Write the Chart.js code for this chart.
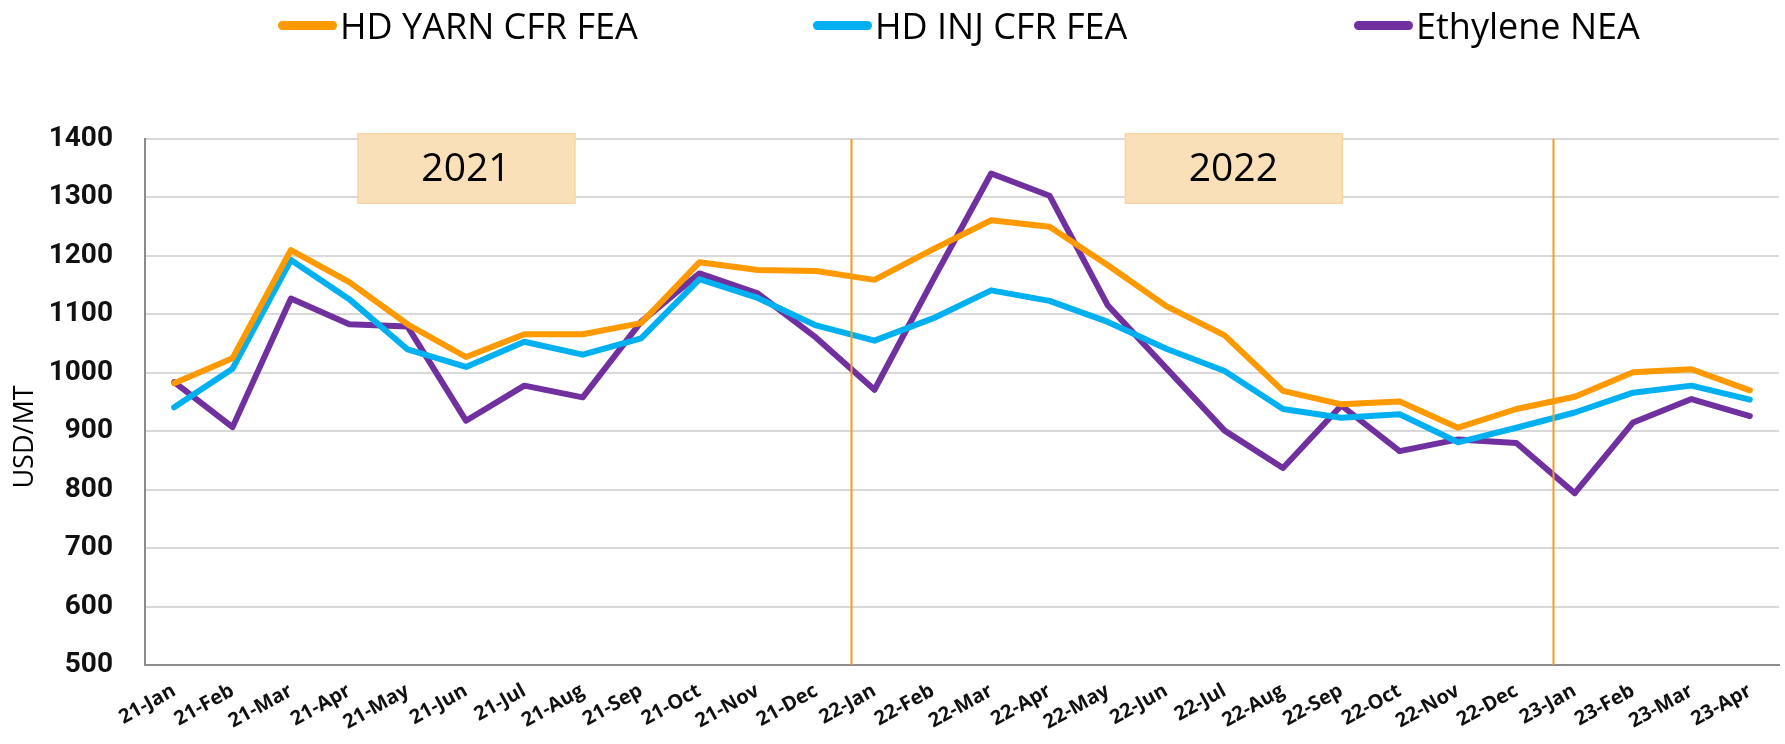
<!DOCTYPE html>
<html>
<head>
<meta charset="utf-8">
<script src="https://cdn.jsdelivr.net/npm/chart.js@4.4.0/dist/chart.umd.min.js"></script>
<style>
  html, body { margin: 0; padding: 0; background: #fff; }
  #wrap { position: relative; width: 1785px; height: 744px; }
  #grafico { position: absolute; left: 0; top: 0; }
  .leg { position: absolute; top: 0; height: 50px; display: flex; align-items: center;
         font-family: 'Open Sans', sans-serif; font-size: 36px; font-weight: 500; color: #000; white-space: nowrap; }
  .leg i { display: inline-block; width: 59px; height: 9px; border-radius: 5px; margin-right: 3px; }
</style>
</head>
<body>
<div id="wrap">
  <canvas id="grafico" width="1785" height="744"></canvas>
  <div id="legenda"></div>
</div>
<script>
// ===== DADOS =====
const meses = ['21-Jan','21-Feb','21-Mar','21-Apr','21-May','21-Jun','21-Jul','21-Aug','21-Sep','21-Oct','21-Nov','21-Dec',
               '22-Jan','22-Feb','22-Mar','22-Apr','22-May','22-Jun','22-Jul','22-Aug','22-Sep','22-Oct','22-Nov','22-Dec',
               '23-Jan','23-Feb','23-Mar','23-Apr'];
const hdYarn  = [982, 1025, 1210, 1155, 1083, 1027, 1066, 1066, 1085, 1189, 1176, 1174,
                 1159, 1211, 1261, 1250, 1184, 1114, 1064, 969, 946, 951, 906, 938,
                 959, 1001, 1006, 970];
const hdInj   = [941, 1007, 1193, 1126, 1040, 1010, 1053, 1031, 1059, 1160, 1128, 1081,
                 1055, 1093, 1141, 1123, 1087, 1041, 1003, 938, 923, 929, 881, 906,
                 932, 966, 978, 954];
const etileno = [984, 907, 1127, 1083, 1079, 918, 978, 958, 1087, 1170, 1136, 1060,
                 971, 1158, 1341, 1303, 1115, 1008, 901, 837, 944, 866, 886, 880,
                 794, 915, 955, 926];
const nomes = ['HD YARN CFR FEA', 'HD INJ CFR FEA', 'Ethylene NEA'];
const cores = ['#FF9900', '#00B0F0', '#7030A0'];
const anos = ['2021', '2022'];
const anoCentro = [5, 18.15];      // índice da categoria no centro da caixa
const divisoes = [11.6, 23.62];     // linhas verticais entre anos
const Y_MIN = 500, Y_MAX = 1400, Y_PASSO = 100;

// ===== LEGENDA (html) =====
const legX = [278, 813, 1354];
document.getElementById('legenda').innerHTML = nomes.map((n, i) =>
  `<div class="leg" style="left:${legX[i]}px"><i style="background:${cores[i]}"></i>${n}</div>`
).join('');

// ===== PLUGINS =====
const caixasAno = {
  id: 'caixasAno',
  beforeDatasetsDraw(chart) {
    const { ctx, scales: { x, y } } = chart;
    ctx.save();
    anos.forEach((a, i) => {
      const cx = x.getPixelForValue(anoCentro[i]);
      const top = y.getPixelForValue(1409);
      const bot = y.getPixelForValue(1290);
      ctx.fillStyle = '#F9E0B9';
      ctx.fillRect(cx - 108, top, 217, bot - top);
      ctx.strokeStyle = '#F6D6A6';
      ctx.lineWidth = 1.5;
      ctx.strokeRect(cx - 108, top, 217, bot - top);
      ctx.fillStyle = '#000';
      ctx.font = '500 39px "Open Sans"';
      ctx.textAlign = 'center';
      ctx.textBaseline = 'middle';
      ctx.fillText(a, cx, (top + bot) / 2 + 1);
    });
    ctx.restore();
  }
};

const linhasAno = {
  id: 'linhasAno',
  afterDatasetsDraw(chart) {
    const { ctx, chartArea, scales: { x } } = chart;
    ctx.save();
    ctx.strokeStyle = '#F39C1F';
    ctx.lineWidth = 2;
    divisoes.forEach(d => {
      const px = Math.round(x.getPixelForValue(d)) + 0.5;
      ctx.beginPath();
      ctx.moveTo(px, chartArea.top);
      ctx.lineTo(px, chartArea.bottom);
      ctx.stroke();
    });
    ctx.restore();
  }
};

const tituloY = {
  id: 'tituloY',
  afterDraw(chart) {
    const { ctx } = chart;
    ctx.save();
    ctx.translate(25, 437);
    ctx.rotate(-Math.PI / 2);
    ctx.fillStyle = '#000';
    ctx.font = '500 27px "Open Sans"';
    ctx.textAlign = 'center';
    ctx.textBaseline = 'middle';
    ctx.fillText('USD/MT', 0, 0);
    ctx.restore();
  }
};

// ===== GRÁFICO =====
const serie = (i, dados) => ({
  label: nomes[i],
  data: dados,
  borderColor: cores[i],
  backgroundColor: cores[i],
  borderWidth: 6,
  pointRadius: 0,
  tension: 0,
  borderJoinStyle: 'round',
  borderCapStyle: 'round',
  fill: false
});

new Chart(document.getElementById('grafico'), {
  type: 'line',
  data: {
    labels: meses,
    datasets: [serie(0, hdYarn), serie(1, hdInj), serie(2, etileno)]
  },
  options: {
    responsive: false,
    animation: false,
    layout: { padding: { top: 139, right: 6, left: 0, bottom: 0 } },
    plugins: {
      legend: { display: false },
      tooltip: { enabled: false }
    },
    scales: {
      x: {
        offset: true,
        grid: { display: false, drawTicks: false },
        border: { display: true, color: '#8C8C8C', width: 2 },
        ticks: {
          autoSkip: false,
          minRotation: 29,
          maxRotation: 29,
          padding: 14,
          color: '#111',
          font: { family: 'Open Sans', weight: 'bold', size: 20 }
        },
        afterFit: s => { s.height = 79; }
      },
      y: {
        min: Y_MIN,
        max: Y_MAX,
        grid: { color: '#D9D9D9', lineWidth: 2, drawTicks: false },
        border: { display: true, color: '#8C8C8C', width: 2 },
        ticks: {
          stepSize: Y_PASSO,
          padding: 32,
          color: '#111',
          font: { family: 'Roboto', weight: 'bold', size: 28 },
          callback: v => String(v)
        },
        afterFit: s => { s.width = 145; }
      }
    }
  },
  plugins: [caixasAno, linhasAno, tituloY]
});
</script>
</body>
</html>
